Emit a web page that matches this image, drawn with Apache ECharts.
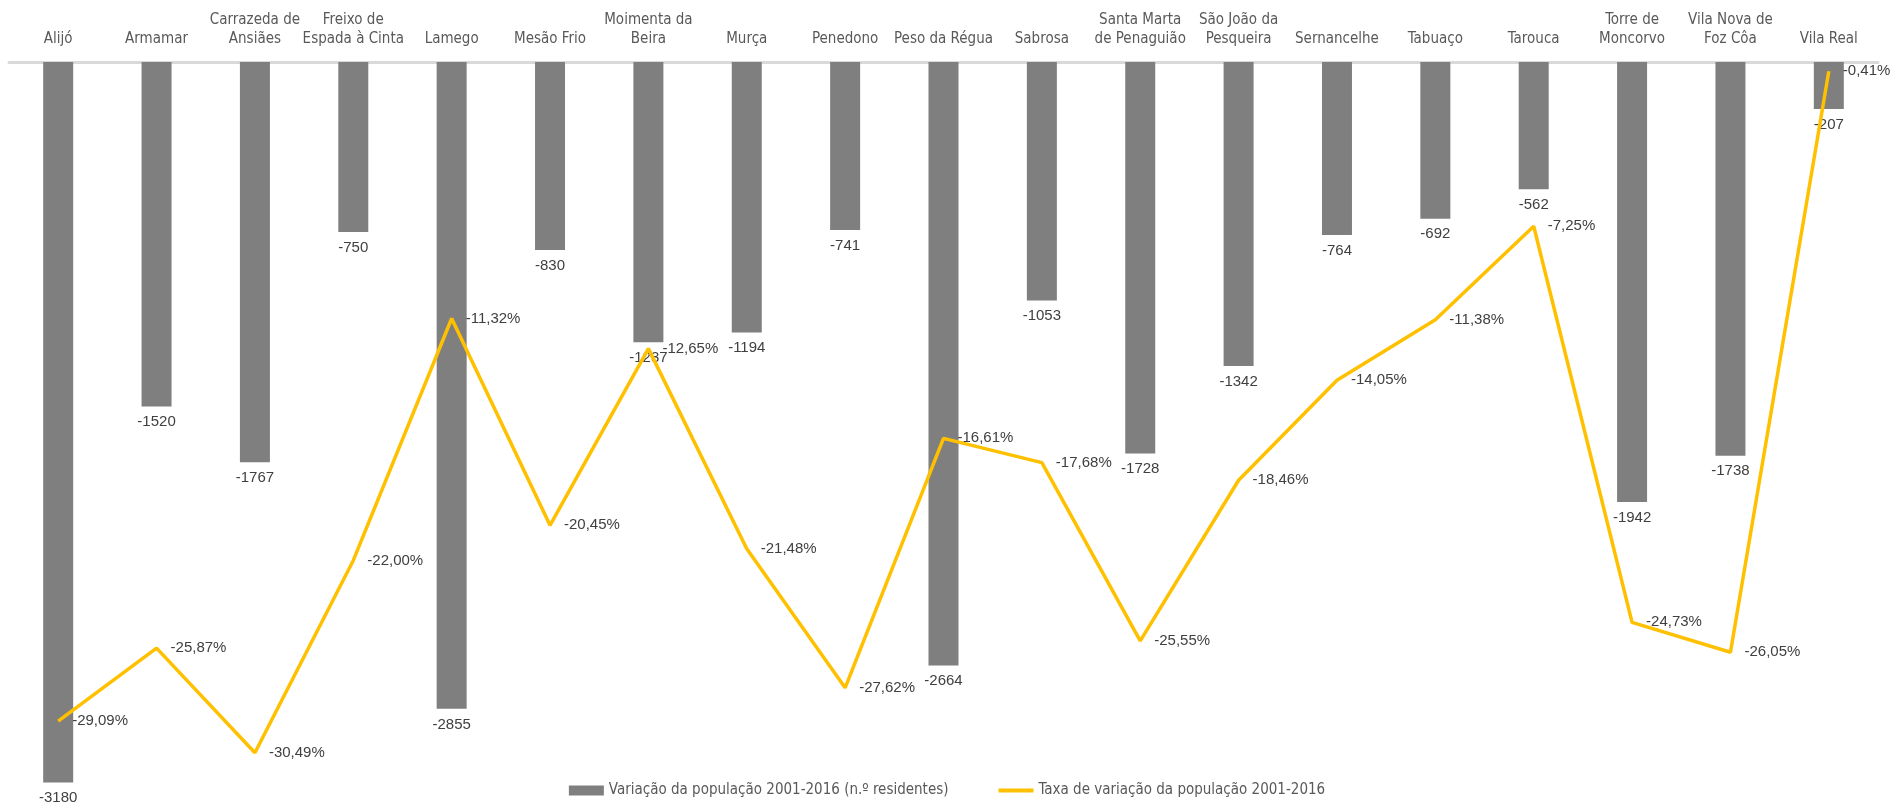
<!DOCTYPE html>
<html><head><meta charset="utf-8">
<script src="https://cdn.jsdelivr.net/npm/echarts@6/dist/echarts.min.js"></script>
<style>html,body{margin:0;padding:0;background:#fff}#c{width:1894px;height:809px}</style>
</head><body><div id="c"></div>
<script>
const categories = ["Alijó","Armamar","Carrazeda de\nAnsiães","Freixo de\nEspada à Cinta","Lamego","Mesão Frio","Moimenta da\nBeira","Murça","Penedono","Peso da Régua","Sabrosa","Santa Marta\nde Penaguião","São João da\nPesqueira","Sernancelhe","Tabuaço","Tarouca","Torre de\nMoncorvo","Vila Nova de\nFoz Côa","Vila Real"];
const populationChange = [-3180,-1520,-1767,-750,-2855,-830,-1237,-1194,-741,-2664,-1053,-1728,-1342,-764,-692,-562,-1942,-1738,-207];
const rateChange = [-29.09,-25.87,-30.49,-22.00,-11.32,-20.45,-12.65,-21.48,-27.62,-16.61,-17.68,-25.55,-18.46,-14.05,-11.38,-7.25,-24.73,-26.05,-0.41];
const seriesNames = ["Variação da população 2001-2016 (n.º residentes)","Taxa de variação da população 2001-2016"];

const FONT = '"Liberation Sans Narrow","DejaVu Sans Condensed","Open Sans",sans-serif';
const chart = echarts.init(document.getElementById('c'));
chart.setOption({
  animation:false,
  textStyle:{fontFamily:FONT},
  grid:{left:9,right:16,top:62,height:793,outerBoundsMode:'none',containLabel:false},
  legend:{
    top:778,left:'center',itemGap:50,itemWidth:35,itemHeight:10,
    textStyle:{color:'#595959',fontSize:15,fontFamily:FONT},
    data:[{name:seriesNames[0],icon:'rect'},{name:seriesNames[1],icon:'path://M0,0H35V4H0Z',itemStyle:{color:'#ffc000',opacity:1}}]
  },
  xAxis:{
    type:'category',data:categories,position:'top',
    axisTick:{show:false},
    axisLine:{onZero:false,lineStyle:{color:'#d9d9d9',width:3}},
    axisLabel:{interval:0,color:'#595959',fontSize:15,lineHeight:19,margin:13,fontFamily:FONT}
  },
  yAxis:[
    {type:'value',min:-3500,max:0,show:false,splitLine:{show:false}},
    {type:'value',min:-35,max:0,show:false,splitLine:{show:false}}
  ],
  series:[
    {name:seriesNames[0],type:'bar',data:populationChange,yAxisIndex:0,barWidth:30,
     itemStyle:{color:'#7f7f7f'},
     label:{show:true,position:'bottom',distance:8,color:'#404040',fontSize:15,fontFamily:'"Liberation Sans","Open Sans",sans-serif'}},
    {name:seriesNames[1],type:'line',data:rateChange,yAxisIndex:1,symbol:'circle',symbolSize:2,showSymbol:true,
     lineStyle:{color:'#ffc000',width:3.5},itemStyle:{color:'rgba(255,192,0,0)',borderWidth:0},
     labelLayout:{hideOverlap:false},
     label:{show:true,position:'right',distance:13,color:'#404040',opacity:1,fontSize:15,fontFamily:'"Liberation Sans","Open Sans",sans-serif',
       formatter:function(p){return Number(p.value).toFixed(2).replace('.',',')+'%';}}}
  ]
});
</script></body></html>
